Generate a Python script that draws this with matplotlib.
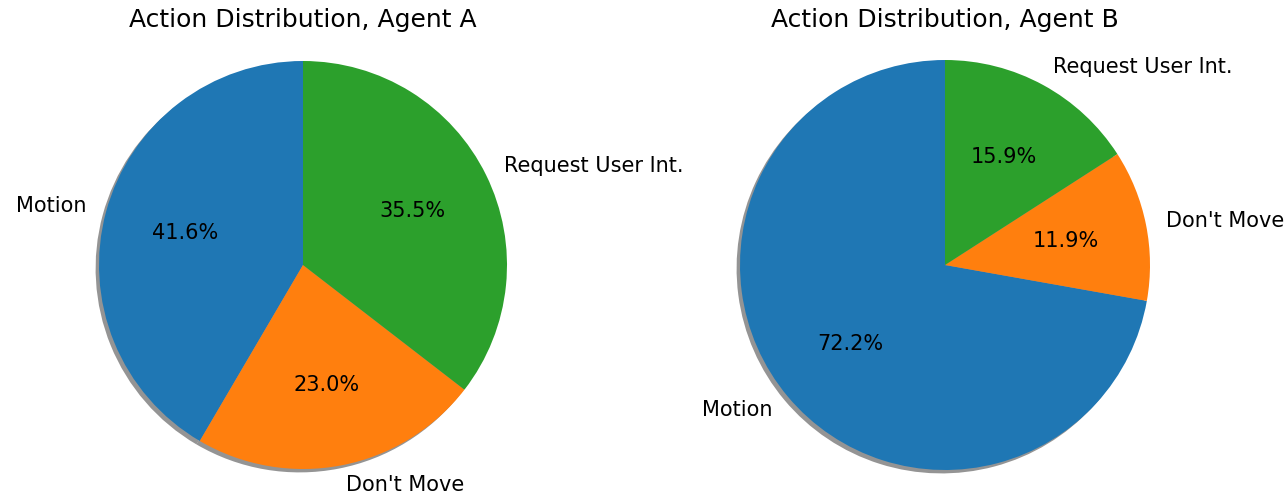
import matplotlib
matplotlib.use("Agg")
import matplotlib.pyplot as plt

labels = ["Motion", "Don't Move", "Request User Int."]
agent_a = [41.6, 23.0, 35.5]
agent_b = [72.2, 11.9, 15.9]
titles = ["Action Distribution, Agent A", "Action Distribution, Agent B"]

W, H = 1286, 503
fig = plt.figure(figsize=(W / 100, H / 100), dpi=100)

def place(cx, cy, r):
    half = 1.25 * r
    return [(cx - half) / W, (H - cy - half) / H, 2 * half / W, 2 * half / H]

centers = [(303, 265, 204), (945, 265, 205)]
for (cx, cy, r), vals, title in zip(centers, [agent_a, agent_b], titles):
    ax = fig.add_axes(place(cx, cy, r))
    ax.pie(vals, labels=labels, autopct="%1.1f%%", startangle=90,
           shadow={"ox": -0.012, "oy": -0.012, "facecolor": "#4d4d4d",
                   "edgecolor": "none", "alpha": 0.6},
           colors=["#1f77b4", "#ff7f0e", "#2ca02c"],
           textprops={"fontsize": 15})
    ax.set_xlim(-1.25, 1.25)
    ax.set_ylim(-1.25, 1.25)
    ax.set_aspect("equal")
    fig.text(cx / W, 1 - 20 / H, title, ha="center", va="center", fontsize=18)

fig.savefig("out.png", dpi=100)
